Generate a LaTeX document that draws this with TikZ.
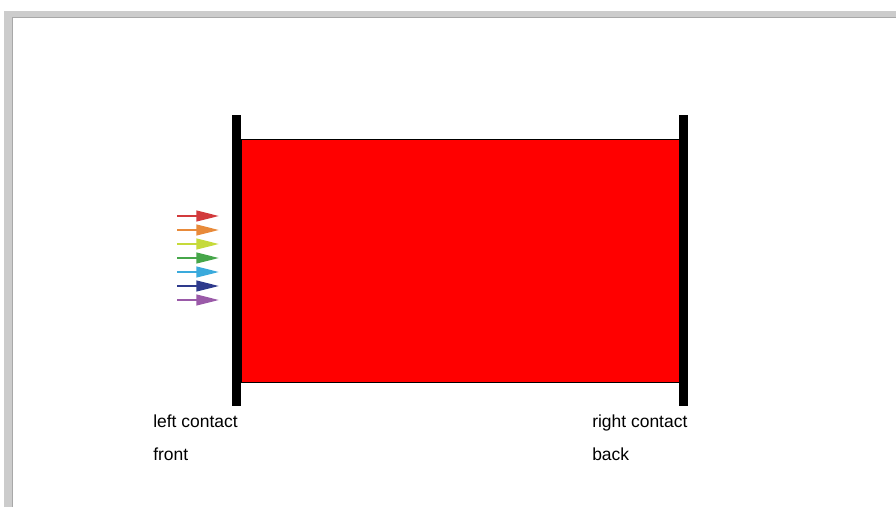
\documentclass[tikz,border=0pt]{standalone}
\usepackage{fontspec}
\setmainfont{Liberation Sans}
\usetikzlibrary{arrows.meta,positioning}

\definecolor{framegray}{HTML}{CCCCCC}
\definecolor{edgegray}{HTML}{A8A8A8}
\definecolor{rayred}{HTML}{D23A3C}
\definecolor{rayorange}{HTML}{E88A3A}
\definecolor{rayyellow}{HTML}{C6DA3A}
\definecolor{raygreen}{HTML}{46A64A}
\definecolor{raycyan}{HTML}{3AAADC}
\definecolor{raynavy}{HTML}{2E3A8C}
\definecolor{raypurple}{HTML}{9A5AA8}

\tikzset{
  contact/.style={fill=black, draw=none, inner sep=0pt, minimum width=6.75pt, minimum height=218pt},
  ray/.style={-{Triangle[length=17pt,width=8pt]}, line width=1.6pt},
  label/.style={anchor=base west, inner sep=0pt, font=\fontsize{13.1}{15}\selectfont}
}

\begin{document}
\begin{tikzpicture}[x=0.75pt, y=-0.75pt]
    \useasboundingbox (0,0) rectangle (896,507);
    % window frame
    \fill[framegray] (4,11) rectangle (896,507);
    \fill[white] (12,17) rectangle (896,507);
    \draw[edgegray, line width=0.75pt] (12.5,507) -- (12.5,17.5) -- (896,17.5);

    % the cell and its contacts
    \node[draw=black, fill=red, line width=0.75pt, inner sep=0pt, minimum width=328.5pt, minimum height=182pt, anchor=north west] (cell) at (241,139) {};
    \node[contact, anchor=north west] (leftbar) at (232,115) {};
    \node[contact, anchor=north west] (rightbar) at (679,115) {};

    % incoming light
    \foreach \c [count=\i] in {rayred,rayorange,rayyellow,raygreen,raycyan,raynavy,raypurple} {
        \coordinate (src\i) at (177,{202+14*\i});
        \coordinate (hit\i) at (219,{202+14*\i});
        \draw[ray, \c] (src\i) -- (hit\i);
    }

    % labels
    \node[label] (leftname) at (153,427) {left contact};
    \node[label] (frontname) at (153,460) {front};
    \node[label] (rightname) at (592,427) {right contact};
    \node[label] (backname) at (592,460) {back};
\end{tikzpicture}
\end{document}
